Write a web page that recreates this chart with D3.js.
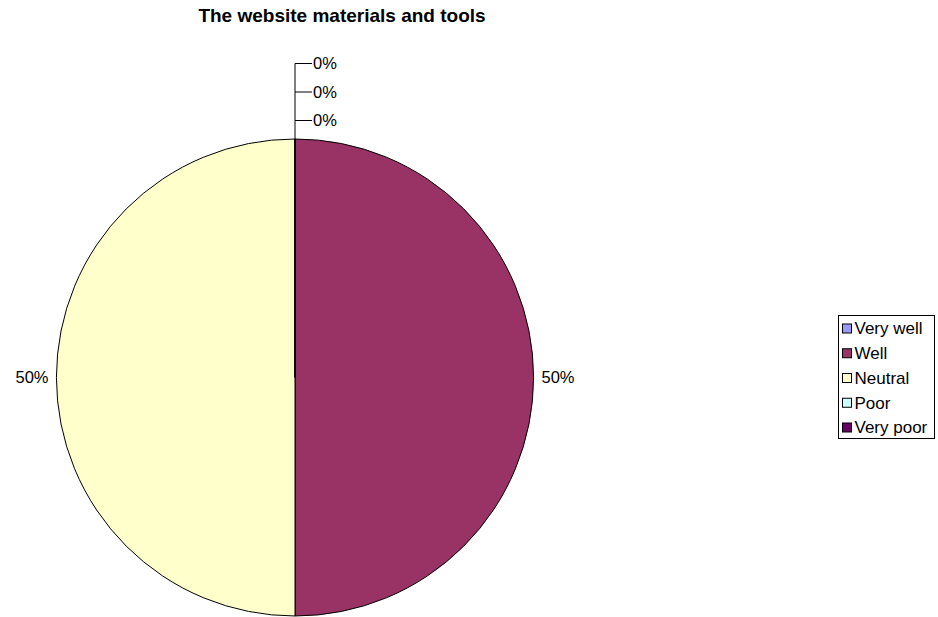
<!DOCTYPE html>
<html>
<head>
<meta charset="utf-8">
<script src="https://cdn.jsdelivr.net/npm/d3@7"></script>
<style>
  html, body { margin: 0; padding: 0; background: #fff; }
  svg { display: block; font-family: Arial, "Liberation Sans", sans-serif; }
</style>
</head>
<body>
<svg id="chart" width="938" height="617"></svg>
<script>
// Survey answers for "The website materials and tools"
const categories = ["Very well", "Well", "Neutral", "Poor", "Very poor"];
const values = [0, 50, 50, 0, 0];
const colors = ["#9999FF", "#993366", "#FFFFCC", "#CCFFFF", "#660066"];
const title = "The website materials and tools";

const svg = d3.select("#chart");
const cx = 295, cy = 377.5, r = 238.5;
const fs = 16.5;

svg.append("text")
  .attr("x", 342).attr("y", 22)
  .attr("text-anchor", "middle")
  .attr("font-size", 19).attr("font-weight", "bold")
  .text(title);

const total = d3.sum(values);
const pie = d3.pie().sort(null).value(d => d)(values);
const arc = d3.arc().innerRadius(0).outerRadius(r);

const g = svg.append("g").attr("transform", `translate(${cx},${cy})`);
g.selectAll("path")
  .data(pie)
  .join("path")
  .attr("d", arc)
  .attr("fill", (d, i) => colors[i])
  .attr("stroke", "#000")
  .attr("stroke-width", 1);

const pct = d3.format(".0%");

// Labels for slices with a size: placed just outside the rim at the slice midpoint
pie.forEach((d, i) => {
  if (d.value === 0) return;
  const mid = (d.startAngle + d.endAngle) / 2;
  const lr = r + 8;
  const x = Math.sin(mid) * lr, y = -Math.cos(mid) * lr;
  g.append("text")
    .attr("x", x).attr("y", y)
    .attr("dy", "0.35em")
    .attr("text-anchor", Math.sin(mid) >= 0 ? "start" : "end")
    .attr("font-size", fs)
    .text(pct(d.value / total));
});

// Zero-size slices sit on the top edge; their labels are stacked upward with leader lines
const zeros = pie.filter(d => d.value === 0);
const step = 28.5, tick = 17;
const firstY = -r - 18.5;
const lastY = firstY - step * (zeros.length - 1);
g.append("line")
  .attr("x1", 0).attr("y1", -r).attr("x2", 0).attr("y2", lastY)
  .attr("stroke", "#000").attr("stroke-width", 1);
zeros.forEach((d, k) => {
  const y = firstY - step * k;
  g.append("line")
    .attr("x1", 0).attr("y1", y).attr("x2", tick).attr("y2", y)
    .attr("stroke", "#000").attr("stroke-width", 1);
  g.append("text")
    .attr("x", tick + 1).attr("y", y)
    .attr("dy", "0.35em")
    .attr("font-size", fs)
    .text(pct(d.value / (total || 1)));
});

// Legend
const lx = 838.5, ly = 315.5, lw = 96, lh = 123;
const lg = svg.append("g");
lg.append("rect")
  .attr("x", lx).attr("y", ly).attr("width", lw).attr("height", lh)
  .attr("fill", "#fff").attr("stroke", "#000").attr("stroke-width", 1);
const rowY = d3.scalePoint().domain(categories).range([ly + 13, ly + 112]);
categories.forEach((c, i) => {
  const y = rowY(c);
  lg.append("rect")
    .attr("x", lx + 4).attr("y", y - 4.5).attr("width", 9).attr("height", 9)
    .attr("fill", colors[i]).attr("stroke", "#000").attr("stroke-width", 1);
  lg.append("text")
    .attr("x", lx + 16).attr("y", y)
    .attr("dy", "0.35em")
    .attr("font-size", 17)
    .text(c);
});
</script>
</body>
</html>
